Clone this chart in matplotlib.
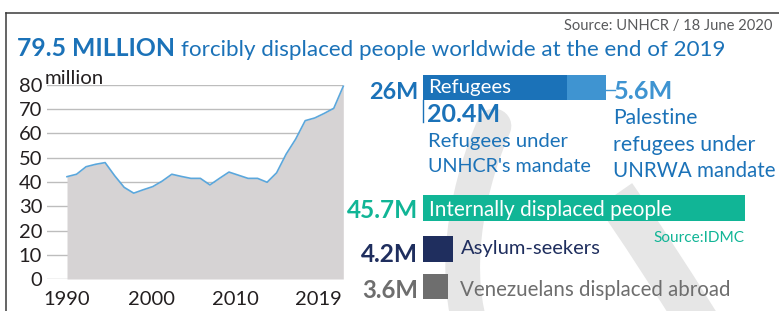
import matplotlib
matplotlib.use("Agg")
import matplotlib.pyplot as plt
from matplotlib.path import Path
from matplotlib.patches import PathPatch

W, H = 779, 311
FONT = "Lato"

# ----- data -----

years = list(range(1990, 2020))
displaced = [42.2, 43.2, 46.3, 47.3, 48.0, 42.6, 37.8, 35.4, 36.8, 38.1,
             40.4, 43.2, 42.3, 41.5, 41.5, 38.8, 41.5, 44.1, 42.8, 41.5,
             41.5, 39.9, 43.8, 51.5, 57.7, 65.3, 66.4, 68.3, 70.4, 79.5]
tick_labels = ["1990", "2000", "2010", "2019"]

unhcr_refugees = 20.4
unrwa_refugees = 5.6
idp = 45.7
asylum = 4.2
venezuelans = 3.6

BLUE = "#1b72b8"
LIGHT = "#3f94d1"
TEAL = "#11b596"
NAVY = "#1f2e5e"
GREY = "#6e6e6e"
DARK = "#231f20"
WATERMARK = "#e6e6e6"

fig = plt.figure(figsize=(W / 100, H / 100), dpi=100)


def fx(x):
    return x / W


def fy(y):
    return 1 - y / H


# ----- background: frame + watermark -----

bg = fig.add_axes([0, 0, 1, 1])
bg.set_xlim(0, W)
bg.set_ylim(H, 0)
bg.axis("off")

arc_a = Path([(494, 126), (470, 180), (452, 260), (470, 325)],
             [Path.MOVETO, Path.CURVE4, Path.CURVE4, Path.CURVE4])
arc_b = Path([(615, 195), (650, 245), (700, 325)],
             [Path.MOVETO, Path.CURVE3, Path.CURVE3])
bg.add_patch(PathPatch(arc_a, fill=False, ec=WATERMARK, lw=25, capstyle="round"))
bg.add_patch(PathPatch(arc_b, fill=False, ec=WATERMARK, lw=30, capstyle="butt"))

bg.plot([6, W], [13, 13], color="#3a3a3a", lw=1.1)
bg.plot([6, 6], [13, H], color="#3a3a3a", lw=1.1)

# ----- area chart -----

ax = fig.add_axes([fx(47), fy(279), (343.3 - 47) / W, (279 - 85) / H])
ax.set_facecolor("none")
ax.fill_between(years, displaced, color="#d6d3d4", lw=0)
ax.plot(years, displaced, color="#5ba7dc", lw=1.2, clip_on=False)
ax.set_xlim(1987.9, 2019)
ax.set_ylim(0, 80)
ax.set_yticks(range(0, 81, 10))
ax.set_xticks([1990, 1998.9, 2007.7, 2016.4], tick_labels)
ax.yaxis.grid(True, color="#bdbdbd", lw=1)
ax.set_axisbelow(True)
for s in ax.spines.values():
    s.set_visible(False)
ax.tick_params(length=0, labelsize=14.5, labelcolor=DARK)
ax.tick_params(axis="y", pad=3.5)
ax.tick_params(axis="x", pad=8.5)
for lab in ax.get_xticklabels() + ax.get_yticklabels():
    lab.set_family(FONT)

# ----- bars -----

bx = fig.add_axes([fx(423), 0, (745 - 423) / W, 1])
bx.set_facecolor("none")
bx.set_xlim(0, idp)
bx.set_ylim(H, 0)
bx.axis("off")
bx.barh(75, unhcr_refugees, height=25, align="edge", color=BLUE)
bx.barh(75, unrwa_refugees, left=unhcr_refugees, height=25, align="edge", color=LIGHT)
bx.barh(195, idp, height=26, align="edge", color=TEAL)
bx.barh(236, asylum, height=26, align="edge", color=NAVY)
bx.barh(274, venezuelans, height=25, align="edge", color=GREY)

total = unhcr_refugees + unrwa_refugees
bx.plot([0.05, 0.05], [100, 122], color=BLUE, lw=1, clip_on=False)
bx.plot([total, total + 1.2], [90, 90], color=LIGHT, lw=1, clip_on=False)

# ----- texts (fitted to width) -----

fitted = []


def label(x, y, s, width, color, bold=False, ha="left"):
    t = fig.text(fx(x), fy(y), s, ha=ha, va="baseline", color=color,
                 fontweight="bold" if bold else "normal", fontsize=12, family=FONT)
    fitted.append((t, width))
    return t


label(772, 30, "Source: UNHCR / 18 June 2020", 208, "#58595b", ha="right")
label(17, 56, "79.5 MILLION", 158, BLUE, bold=True)
label(181, 56, "forcibly displaced people worldwide at the end of 2019", 542, BLUE)
label(45, 84, "million", 59, DARK)

label(418, 99, f"{total:g}M", 49, BLUE, bold=True, ha="right")
label(428, 92.5, "Refugees", 83, "white")
label(614, 99, f"{unrwa_refugees:g}M", 59, LIGHT, bold=True)
label(427, 122, f"{unhcr_refugees:g}M", 73, BLUE, bold=True)
label(428, 147, "Refugees under", 140, BLUE)
label(428, 172, "UNHCR's mandate", 162, BLUE)
label(613, 124, "Palestine", 84, BLUE)
label(613, 151, "refugees under", 142, BLUE)
label(613, 177, "UNRWA mandate", 162, BLUE)

label(418, 218, f"{idp:g}M", 71, TEAL, bold=True, ha="right")
label(429, 216, "Internally displaced people", 243, "white")
label(744, 242, "Source:IDMC", 91, TEAL, ha="right")
label(418, 262, f"{asylum:g}M", 57, NAVY, bold=True, ha="right")
label(461, 254, "Asylum-seekers", 139, NAVY)
label(418, 298, f"{venezuelans:g}M", 56, GREY, bold=True, ha="right")
label(460, 296, "Venezuelans displaced abroad", 271, GREY)

fig.canvas.draw()
r = fig.canvas.get_renderer()
for t, w in fitted:
    t.set_fontsize(12 * w / t.get_window_extent(r).width)

fig.savefig("out.png", dpi=100, facecolor="white")
